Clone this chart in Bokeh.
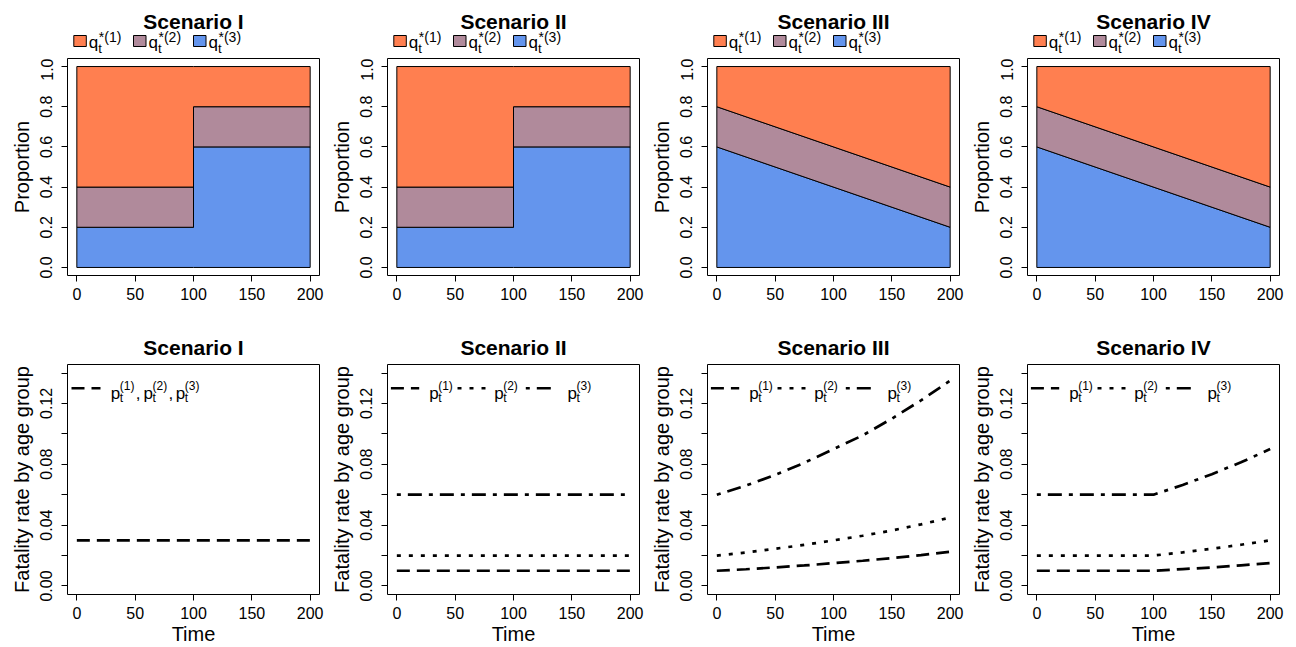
from bokeh.plotting import figure
from bokeh.layouts import gridplot
from bokeh.models import Label, FixedTicker, PrintfTickFormatter, Range1d
from bokeh.core.properties import value
from bokeh.embed import file_html
from bokeh.resources import INLINE

FONT = "Liberation Sans"

scenarios = ["Scenario I", "Scenario II", "Scenario III", "Scenario IV"]

# ---- top row: age-group proportions (stacked) ----
t_step = [0, 100, 100, 200]
q3_step = [0.2, 0.2, 0.6, 0.6]
q2_step = [0.2, 0.2, 0.2, 0.2]
t_lin = [0, 200]
q3_lin = [0.6, 0.2]
q2_lin = [0.2, 0.2]
top_data = [(t_step, q3_step, q2_step), (t_step, q3_step, q2_step),
            (t_lin, q3_lin, q2_lin), (t_lin, q3_lin, q2_lin)]

col_q1 = "#FF7F50"
col_q2 = "#B08A9B"
col_q3 = "#6495ED"

# ---- bottom row: fatality rates ----
time = [0, 25, 50, 75, 100, 125, 150, 175, 200]
pI_all = [0.03, 0.03, 0.03, 0.03, 0.03, 0.03, 0.03, 0.03, 0.03]
pII_1 = [0.01] * 9
pII_2 = [0.02] * 9
pII_3 = [0.06] * 9
pIII_1 = [0.010, 0.011, 0.0122, 0.0135, 0.015, 0.0166, 0.0183, 0.0203, 0.0225]
pIII_2 = [0.020, 0.022, 0.0245, 0.027, 0.030, 0.033, 0.0365, 0.0405, 0.045]
pIII_3 = [0.060, 0.066, 0.073, 0.081, 0.090, 0.099, 0.110, 0.122, 0.135]
pIV_1 = [0.010, 0.010, 0.010, 0.010, 0.010, 0.0111, 0.0122, 0.0136, 0.015]
pIV_2 = [0.020, 0.020, 0.020, 0.020, 0.020, 0.0221, 0.0245, 0.0271, 0.030]
pIV_3 = [0.060, 0.060, 0.060, 0.060, 0.060, 0.0664, 0.0735, 0.0813, 0.090]

DASH = "13 7"
DOT = "4 8"
DOTDASH = "4 7 14 7"
LW = 2.7

XR = (-8, 208)
FRAME_W = 252
PXX = FRAME_W / (XR[1] - XR[0])
TOP_YR = (-0.04, 1.04)
BOT_YR = (-0.0056, 0.1456)

LEFTS = [67, 60, 60, 60]
RIGHT = 8

HDR_TOP_H = 58
TOP_H = 272
HDR_BOT_H = 34
BOT_H = 283

SHIFT = 0.28  # baseline correction, in em


def px2x(px):
    return XR[0] + px / PXX


def label(p, x, y, text, size, xo=0, yo=0):
    p.add_layout(Label(x=x, y=y, x_offset=xo, y_offset=yo + SHIFT * size, text=text,
                       text_font=FONT, text_font_size=f"{size}px",
                       text_align="left", text_baseline="alphabetic",
                       text_color="black"))


def header_fig(col, H):
    p = figure(width=LEFTS[col] + FRAME_W + RIGHT, height=H,
               x_range=Range1d(0, FRAME_W), y_range=Range1d(0, H),
               x_axis_location=None, y_axis_location=None,
               output_backend="svg", toolbar_location=None,
               min_border_left=LEFTS[col], min_border_right=RIGHT,
               min_border_top=0, min_border_bottom=0)
    p.grid.visible = False
    p.outline_line_color = None
    p.background_fill_color = "white"
    p.border_fill_color = "white"
    return p


def htext(p, x, y, text, size, bold=False, align="left"):
    p.text(x=[x], y=[y + SHIFT * size], text=[text], text_font=value(FONT),
           text_font_size=f"{size}px",
           text_font_style="bold" if bold else "normal", text_align=align,
           text_baseline="alphabetic", text_color="black")


def base_fig(col, height, top, bottom, yr):
    p = figure(width=LEFTS[col] + FRAME_W + RIGHT, height=height,
               x_range=Range1d(*XR), y_range=Range1d(*yr),
               output_backend="svg", toolbar_location=None,
               min_border_left=LEFTS[col], min_border_right=RIGHT,
               min_border_top=top, min_border_bottom=bottom)
    p.grid.visible = False
    p.outline_line_color = "black"
    p.outline_line_width = 1
    p.outline_line_alpha = 1
    p.background_fill_color = "white"
    p.border_fill_color = "white"
    for ax in (p.xaxis[0], p.yaxis[0]):
        ax.axis_line_color = None
        ax.major_tick_in = 0
        ax.major_tick_out = 6
        ax.major_tick_line_color = "black"
        ax.minor_tick_in = 0
        ax.minor_tick_out = 6
        ax.minor_tick_line_color = "black"
        ax.major_label_text_font = FONT
        ax.major_label_text_font_size = "16px"
        ax.major_label_text_color = "black"
        ax.axis_label_text_font = FONT
        ax.axis_label_text_font_size = "20px"
        ax.axis_label_text_font_style = "normal"
        ax.axis_label_text_color = "black"
    p.xaxis.ticker = FixedTicker(ticks=[0, 50, 100, 150, 200], minor_ticks=[])
    p.xaxis.major_label_standoff = 6
    p.yaxis.major_label_orientation = "vertical"
    p.yaxis.major_label_standoff = 9
    p.yaxis.axis_label_standoff = 5
    return p


hdr_top, top_figs, hdr_bot, bot_figs = [], [], [], []

for i, (t, q3, q2) in enumerate(top_data):
    # header: title + legend
    h = header_fig(i, HDR_TOP_H)
    htext(h, FRAME_W / 2, 31.3, scenarios[i], 21, bold=True, align="center")
    for k, (bx, col) in enumerate(((6.3, col_q1), (66.0, col_q2), (126.0, col_q3))):
        h.quad(left=[bx], right=[bx + 12.5], bottom=[12], top=[23],
               fill_color=col, line_color="black", line_width=1)
        htext(h, bx + 15, 11.3, "q", 17)
        htext(h, bx + 24.5, 6.3, "t", 13)
        htext(h, bx + 25, 18, f"*({k + 1})", 14)
    hdr_top.append(h)

    p = base_fig(i, TOP_H, 0, 55, TOP_YR)
    p.yaxis.ticker = FixedTicker(ticks=[0, 0.2, 0.4, 0.6, 0.8, 1.0], minor_ticks=[])
    p.yaxis.formatter = PrintfTickFormatter(format="%.1f")
    p.yaxis.axis_label = "Proportion"
    c3 = list(q3)
    c2 = [a + b for a, b in zip(q3, q2)]
    ones = [1.0] * len(t)
    zeros = [0.0] * len(t)
    for lo, hi, col in ((zeros, c3, col_q3), (c3, c2, col_q2), (c2, ones, col_q1)):
        xs = list(t) + list(t)[::-1]
        ys = list(hi) + list(lo)[::-1]
        p.patch(xs, ys, fill_color=col, line_color="black", line_width=1)
    top_figs.append(p)

bot_series = [
    [(pI_all, DASH)],
    [(pII_1, DASH), (pII_2, DOT), (pII_3, DOTDASH)],
    [(pIII_1, DASH), (pIII_2, DOT), (pIII_3, DOTDASH)],
    [(pIV_1, DASH), (pIV_2, DOT), (pIV_3, DOTDASH)],
]

LEG_Y = 0.13
for i, series in enumerate(bot_series):
    h = header_fig(i, HDR_BOT_H)
    htext(h, FRAME_W / 2, 10.7, scenarios[i], 21, bold=True, align="center")
    hdr_bot.append(h)

    p = base_fig(i, BOT_H, 0, 51, BOT_YR)
    p.yaxis.ticker = FixedTicker(ticks=[0, 0.04, 0.08, 0.12], minor_ticks=[0.02, 0.06, 0.10, 0.14])
    p.yaxis.formatter = PrintfTickFormatter(format="%.2f")
    p.yaxis.axis_label = "Fatality rate by age group"
    p.xaxis.axis_label = "Time"
    p.xaxis.axis_label_standoff = 1
    for vals, dash in series:
        p.line(time, vals, line_color="black", line_width=LW, line_dash=dash, line_cap="butt")
    if i == 0:
        p.line([px2x(4), px2x(33)], [LEG_Y, LEG_Y], line_color="black", line_width=LW,
               line_dash=DASH, line_cap="butt")
        pieces = [(43.3, "(1)", ","), (76.0, "(2)", ","), (108.3, "(3)", "")]
        for bx, sup, tail in pieces:
            label(p, XR[0], LEG_Y, "p", 17, xo=bx, yo=-10)
            label(p, XR[0], LEG_Y, "t", 12, xo=bx + 9, yo=-13.5)
            label(p, XR[0], LEG_Y, sup, 12, xo=bx + 9, yo=-1.5)
            if tail:
                label(p, XR[0], LEG_Y, tail, 17, xo=bx + 25, yo=-10)
    else:
        segs = [(3.4, 31.7, DASH, 41.7, "(1)"), (70.0, 101.7, DOT, 106.7, "(2)"),
                (138.3, 168.3, DOTDASH, 180.0, "(3)")]
        for s0, s1, dash, tx, sup in segs:
            p.line([px2x(s0), px2x(s1)], [LEG_Y, LEG_Y], line_color="black", line_width=LW,
                   line_dash=dash, line_cap="butt")
            label(p, XR[0], LEG_Y, "p", 17, xo=tx, yo=-10)
            label(p, XR[0], LEG_Y, "t", 12, xo=tx + 9, yo=-13.5)
            label(p, XR[0], LEG_Y, sup, 12, xo=tx + 9, yo=-1.5)
    bot_figs.append(p)

grid = gridplot([hdr_top, top_figs, hdr_bot, bot_figs], toolbar_location=None)
open("out.html", "w").write(file_html(grid, INLINE))
